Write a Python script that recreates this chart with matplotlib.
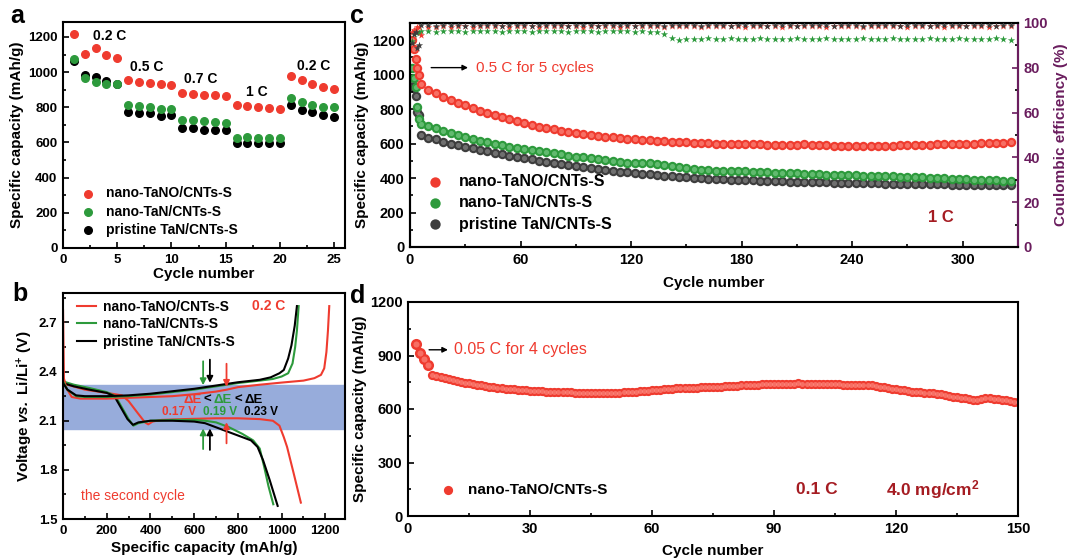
import numpy as np
import matplotlib
matplotlib.use('Agg')
import matplotlib.pyplot as plt
from matplotlib.ticker import MultipleLocator

plt.rcParams['font.family'] = ['Liberation Sans', 'DejaVu Sans']
plt.rcParams['font.weight'] = 'bold'
plt.rcParams['axes.labelweight'] = 'bold'
plt.rcParams['mathtext.fontset'] = 'custom'
plt.rcParams['mathtext.rm'] = 'Liberation Sans:bold'
plt.rcParams['mathtext.bf'] = 'Liberation Sans:bold'
plt.rcParams['mathtext.it'] = 'Liberation Sans:italic:bold'
plt.rcParams['mathtext.bfit'] = 'Liberation Sans:italic:bold'

RED = '#ef3b2f'
GREEN = '#2d9a3c'
BLACK = '#000000'
GRAY = '#3d3d3d'
PURPLE = '#6a1d5e'
DARKRED = '#a51c22'

names = ['nano-TaNO/CNTs-S', 'nano-TaN/CNTs-S', 'pristine TaN/CNTs-S']

# ---- panel a : rate performance
a_cycle = list(range(1, 26))
a_red = [1217, 1103, 1135, 1100, 1080, 958, 945, 940, 935, 925,
         882, 878, 872, 868, 862, 815, 805, 800, 795, 790,
         978, 955, 935, 918, 905]
a_green = [1075, 965, 945, 930, 930, 815, 805, 800, 790, 790,
           730, 728, 720, 715, 708, 628, 632, 628, 628, 625,
           855, 830, 815, 800, 800]
a_black = [1065, 985, 975, 950, 930, 772, 770, 768, 752, 755,
           680, 683, 670, 672, 670, 595, 598, 595, 595, 595,
           812, 785, 772, 758, 745]
a_rates = ['0.2 C', '0.5 C', '0.7 C', '1 C', '0.2 C']
a_rate_x = [2.8, 6.2, 11.2, 16.9, 21.6]
a_rate_y = [1205, 1030, 960, 886, 1035]

# ---- panel b : charge/discharge profiles (2nd cycle)
b_red_dq = [0, 20, 100, 200, 270, 300, 340, 375, 390, 410, 450, 550, 700, 800, 900, 960, 990, 1010, 1025, 1055, 1088]
b_red_dv = [2.35, 2.32, 2.29, 2.27, 2.255, 2.22, 2.15, 2.09, 2.078, 2.095, 2.105, 2.11, 2.115, 2.115, 2.11, 2.10, 2.07, 2.0, 1.94, 1.78, 1.60]
b_red_cq = [0, 0, 4, 15, 40, 80, 200, 300, 400, 500, 600, 700, 750, 800, 900, 1000, 1100, 1150, 1180, 1195, 1205, 1212, 1218]
b_red_cv = [1.56, 2.78, 2.36, 2.30, 2.245, 2.235, 2.235, 2.24, 2.245, 2.25, 2.262, 2.278, 2.29, 2.305, 2.32, 2.333, 2.345, 2.36, 2.38, 2.42, 2.52, 2.65, 2.80]
b_green_dq = [0, 50, 120, 200, 240, 270, 300, 322, 345, 400, 500, 600, 650, 700, 760, 820, 870, 900, 920, 940, 962]
b_green_dv = [2.34, 2.32, 2.30, 2.275, 2.25, 2.18, 2.11, 2.07, 2.085, 2.10, 2.105, 2.105, 2.10, 2.09, 2.06, 2.02, 1.98, 1.93, 1.82, 1.70, 1.59]
b_green_cq = [0, 20, 60, 100, 200, 300, 400, 500, 600, 700, 800, 900, 960, 1000, 1030, 1050, 1062, 1070, 1078]
b_green_cv = [2.34, 2.29, 2.25, 2.245, 2.245, 2.25, 2.26, 2.275, 2.29, 2.31, 2.33, 2.345, 2.355, 2.37, 2.39, 2.45, 2.55, 2.65, 2.80]
b_black_dq = [0, 50, 120, 200, 235, 265, 295, 320, 345, 400, 500, 600, 650, 700, 760, 820, 860, 890, 915, 945, 982]
b_black_dv = [2.33, 2.31, 2.29, 2.27, 2.25, 2.18, 2.11, 2.075, 2.09, 2.10, 2.10, 2.095, 2.085, 2.06, 2.03, 2.0, 1.98, 1.94, 1.86, 1.74, 1.58]
b_black_cq = [0, 20, 60, 100, 200, 300, 400, 500, 600, 700, 800, 900, 950, 990, 1010, 1030, 1045, 1060, 1070]
b_black_cv = [2.33, 2.29, 2.255, 2.25, 2.25, 2.255, 2.265, 2.28, 2.295, 2.315, 2.335, 2.35, 2.365, 2.39, 2.41, 2.48, 2.56, 2.68, 2.80]
b_band = (2.05, 2.32)
b_arrow_q = [641, 672, 748]
b_arrow_top = [(2.48, 2.30), (2.49, 2.315), (2.465, 2.29)]
b_arrow_bot = [(1.91, 2.07), (1.905, 2.07), (1.945, 2.108)]

# ---- panel c : long cycling at 1 C
c_cycle = list(range(1, 6)) + list(range(6, 327, 4))
c_red = [1200, 1150, 1090, 1040, 1000,
         945, 912, 893, 873, 855, 838, 822, 806, 792, 778,
         765, 752, 740, 729, 718, 708, 699, 690, 682, 675,
         668, 662, 656, 651, 646, 641, 637, 633, 629, 626,
         622, 619, 616, 613, 611, 609, 607, 605, 603, 602,
         600, 599, 598, 597, 598, 596, 595, 594, 594, 593,
         592, 594, 596, 593, 591, 590, 589, 588, 587, 586,
         585, 585, 586, 587, 589, 591, 592, 591, 593, 594,
         595, 596, 597, 598, 599, 600, 601, 603, 604, 606,
         608]
c_green = [1040, 980, 930, 815, 740,
           712, 705, 690, 675, 660, 648, 638, 628, 618, 608,
           598, 590, 582, 575, 570, 565, 558, 550, 543, 537,
           531, 525, 520, 514, 509, 503, 498, 494, 490, 488,
           490, 488, 482, 475, 470, 462, 456, 452, 448, 445,
           443, 442, 441, 440, 440, 438, 436, 434, 432, 430,
           428, 427, 425, 423, 421, 420, 418, 417, 416, 415,
           414, 413, 412, 411, 410, 409, 408, 406, 404, 402,
           400, 398, 397, 395, 393, 391, 389, 388, 386, 384,
           383]
c_black = [970, 920, 875, 785, 765,
           650, 635, 625, 612, 600, 590, 580, 572, 563, 555,
           547, 538, 530, 522, 515, 508, 500, 493, 486, 480,
           474, 468, 462, 457, 452, 447, 442, 437, 433, 429,
           425, 421, 418, 414, 411, 408, 405, 402, 399, 397,
           395, 393, 391, 389, 387, 386, 384, 383, 382, 381,
           380, 379, 378, 377, 376, 375, 374, 373, 372, 371,
           371, 370, 369, 368, 368, 367, 366, 366, 365, 364,
           364, 363, 362, 362, 361, 360, 360, 359, 358, 358,
           357]
c_ce_red = [96.0, 97.0, 97.5, 98.0, 98.2,
            94.5, 98.3, 98.4, 98.5, 98.4, 98.6, 98.5, 98.4, 98.6, 98.5,
            98.5, 98.6, 98.4, 98.5, 98.6, 98.5, 98.4, 98.6, 98.5, 98.5,
            98.6, 98.5, 98.4, 98.5, 98.6, 98.5, 98.5, 98.4, 98.6, 98.5,
            98.5, 98.6, 98.5, 98.4, 98.5, 98.6, 98.5, 98.5, 98.4, 98.6,
            98.5, 98.5, 98.6, 98.5, 98.4, 98.5, 98.6, 98.5, 98.5, 98.4,
            98.6, 98.5, 98.5, 98.6, 98.5, 98.4, 98.5, 98.6, 98.5, 98.5,
            98.4, 98.6, 98.5, 98.5, 98.6, 98.5, 98.4, 98.5, 98.6, 98.5,
            98.5, 98.4, 98.6, 98.5, 98.5, 98.6, 98.5, 98.4, 98.5, 98.6,
            98.5]
c_ce_green = [92.0, 95.0, 96.0, 96.0, 95.5,
              96.3, 96.4, 96.2, 96.3, 96.5, 96.3, 96.2, 96.4, 96.3, 96.3,
              96.4, 96.2, 96.3, 96.5, 96.3, 96.2, 96.4, 96.3, 96.3, 96.4,
              96.2, 96.3, 96.5, 96.3, 96.2, 96.4, 96.3, 96.3, 96.4, 96.2,
              96.3, 96.0, 95.8, 95.0, 93.5, 92.5, 92.8, 93.0, 92.9, 93.1,
              93.0, 92.9, 93.1, 93.0, 92.8, 93.0, 93.1, 92.9, 93.0, 93.0,
              92.9, 93.1, 93.0, 92.8, 93.0, 93.1, 92.9, 93.0, 93.0, 92.9,
              93.1, 93.0, 92.8, 93.0, 93.1, 92.9, 93.0, 93.0, 92.9, 93.1,
              93.0, 92.8, 93.0, 93.1, 92.9, 93.0, 93.0, 92.9, 93.1, 93.0,
              92.6]
c_ce_black = [91.0, 95.0, 96.0, 89.0, 90.0,
              98.9, 99.0, 98.8, 98.9, 99.0, 98.9, 98.8, 99.0, 98.9, 98.9,
              99.0, 98.8, 98.9, 99.0, 98.9, 98.8, 99.0, 98.9, 98.9, 99.0,
              98.8, 98.9, 99.0, 98.9, 98.8, 99.0, 98.9, 98.9, 99.0, 98.8,
              98.9, 99.0, 98.9, 98.8, 99.0, 98.9, 98.9, 99.0, 98.8, 98.9,
              99.0, 98.9, 98.8, 99.0, 98.9, 98.9, 99.0, 98.8, 98.9, 99.0,
              98.9, 98.8, 99.0, 98.9, 98.9, 99.0, 98.8, 98.9, 99.0, 98.9,
              98.8, 99.0, 98.9, 98.9, 99.0, 98.8, 98.9, 99.0, 98.9, 98.8,
              99.0, 98.9, 98.9, 99.0, 98.8, 98.9, 99.0, 98.9, 98.8, 99.0,
              98.9]

# ---- panel d : high loading at 0.1 C
d_cycle = list(range(2, 151))
d_red = [962, 912, 880, 845, 790, 784, 778, 772, 767, 762,
         757, 752, 748, 744, 740, 736, 732, 729, 726, 723,
         720, 717, 714, 712, 710, 708, 706, 704, 702, 701,
         700, 699, 698, 697, 696, 695, 694, 694, 693, 692,
         692, 691, 691, 690, 690, 690, 690, 690, 691, 691,
         692, 693, 694, 695, 697, 699, 701, 703, 705, 707,
         709, 711, 712, 714, 715, 716, 717, 718, 719, 720,
         721, 722, 723, 724, 725, 726, 727, 728, 730, 731,
         732, 733, 735, 736, 737, 738, 739, 740, 741, 741,
         741, 741, 740, 741, 744, 742, 740, 739, 739, 740,
         741, 741, 740, 739, 738, 737, 736, 735, 734, 733,
         732, 732, 733, 730, 726, 722, 718, 714, 710, 707,
         704, 701, 698, 696, 694, 692, 690, 688, 685, 682,
         678, 674, 670, 667, 664, 660, 655, 651, 650, 658,
         660, 659, 657, 655, 652, 648, 645, 642, 638]

W, H = 1069, 558
fig = plt.figure(figsize=(W / 100, H / 100), dpi=100)


def box(l, t, r, b):
    return [l / W, 1 - b / H, (r - l) / W, (b - t) / H]


def style(ax, size=9.5):
    ax.tick_params(which='both', direction='in', labelsize=size, width=1.2, pad=4)
    ax.tick_params(which='major', length=4)
    ax.tick_params(which='minor', length=2.5)
    for s in ax.spines.values():
        s.set_linewidth(1.5)


def balls(ax, x, y, s, col, light, **kw):
    # ball-like markers: coloured disc plus a lighter centre
    h = ax.scatter(x, y, s=s, color=col, lw=0, **kw)
    ax.scatter(x, y, s=s * 0.3, color=light, lw=0, alpha=0.55,
               zorder=kw.get('zorder', 2) + 0.1)
    return h


# a
ax = fig.add_axes(box(63, 22, 345, 248))
ax.scatter(a_cycle, a_red, s=30, color=RED, label=names[0], zorder=3)
ax.scatter(a_cycle, a_green, s=30, color=GREEN, label=names[1], zorder=2)
ax.scatter(a_cycle, a_black, s=30, color=BLACK, label=names[2], zorder=1)
for t, x, y in zip(a_rates, a_rate_x, a_rate_y):
    ax.text(x, y, t, fontsize=10, ha='left', va='center')
ax.set_xlim(0, 26)
ax.set_ylim(0, 1285)
ax.xaxis.set_major_locator(MultipleLocator(5))
ax.xaxis.set_minor_locator(MultipleLocator(2.5))
ax.yaxis.set_major_locator(MultipleLocator(200))
ax.yaxis.set_minor_locator(MultipleLocator(100))
ax.set_xlabel('Cycle number', fontsize=11, labelpad=1)
ax.set_ylabel('Specific capacity (mAh/g)', fontsize=11, labelpad=3)
style(ax)
ax.legend(loc='lower left', bbox_to_anchor=(0.02, 0.025), frameon=False, fontsize=10,
          handletextpad=0.3, labelspacing=0.3, borderaxespad=0)

# b
ax = fig.add_axes(box(63, 293, 345, 519))
ax.axhspan(b_band[0], b_band[1], color='#97acdb', zorder=0)
ax.plot(b_red_dq, b_red_dv, color=RED, lw=1.5, label=names[0])
ax.plot(b_green_dq, b_green_dv, color=GREEN, lw=1.5, label=names[1])
ax.plot(b_black_dq, b_black_dv, color=BLACK, lw=1.5, label=names[2])
ax.plot(b_red_cq, b_red_cv, color=RED, lw=1.5)
ax.plot(b_green_cq, b_green_cv, color=GREEN, lw=1.5)
ax.plot(b_black_cq, b_black_cv, color=BLACK, lw=1.5)
for q, (t0, t1), (u0, u1), col in zip(b_arrow_q, b_arrow_top, b_arrow_bot, [GREEN, BLACK, RED]):
    ax.annotate('', xy=(q, t1), xytext=(q, t0),
                arrowprops=dict(arrowstyle='-|>', color=col, lw=1.3, mutation_scale=9))
    ax.annotate('', xy=(q, u1), xytext=(q, u0),
                arrowprops=dict(arrowstyle='-|>', color=col, lw=1.3, mutation_scale=9))
ax.text(552, 2.225, 'ΔE', color=RED, fontsize=9.5, va='center')
ax.text(645, 2.225, '<', color=BLACK, fontsize=9.5, va='center')
ax.text(690, 2.225, 'ΔE', color=GREEN, fontsize=9.5, va='center')
ax.text(785, 2.225, '<', color=BLACK, fontsize=9.5, va='center')
ax.text(830, 2.225, 'ΔE', color=BLACK, fontsize=9.5, va='center')
ax.text(455, 2.155, '0.17 V', color=RED, fontsize=8.5, va='center')
ax.text(640, 2.155, '0.19 V', color=GREEN, fontsize=8.5, va='center')
ax.text(830, 2.155, '0.23 V', color=BLACK, fontsize=8.5, va='center')
ax.text(865, 2.8, '0.2 C', color=RED, fontsize=10, va='center')
ax.text(82, 1.64, 'the second cycle', color=RED, fontsize=10, fontweight='normal', va='center')
ax.set_xlim(0, 1290)
ax.set_ylim(1.5, 2.88)
ax.xaxis.set_major_locator(MultipleLocator(200))
ax.xaxis.set_minor_locator(MultipleLocator(100))
ax.yaxis.set_major_locator(MultipleLocator(0.3))
ax.yaxis.set_minor_locator(MultipleLocator(0.15))
ax.set_xlabel('Specific capacity (mAh/g)', fontsize=11, labelpad=3)
ax.set_ylabel(r'Voltage $\mathbfit{vs.}$ Li/Li$^{+}$ (V)', fontsize=11, labelpad=3)
style(ax)
ax.legend(loc='upper left', bbox_to_anchor=(0.03, 0.995), frameon=False, fontsize=10,
          handlelength=1.4, handletextpad=0.45, labelspacing=0.25, borderaxespad=0)

# c
ax = fig.add_axes(box(410, 23, 1018, 247))
ax2 = ax.twinx()
ax2.scatter(c_cycle, c_ce_green, marker='*', s=30, color=GREEN, lw=0, zorder=2)
ax2.scatter(c_cycle, c_ce_red, marker='*', s=30, color=RED, lw=0, zorder=3)
ax2.scatter(c_cycle, c_ce_black, marker='*', s=30, color=GRAY, lw=0, zorder=4)
balls(ax, c_cycle, c_red, 46, RED, '#ff9a90', label=names[0], zorder=3)
balls(ax, c_cycle, c_green, 46, GREEN, '#8fd69a', label=names[1], zorder=2)
balls(ax, c_cycle, c_black, 46, GRAY, '#9a9a9a', label=names[2], zorder=1)
ax.annotate('', xy=(33, 1041), xytext=(10, 1041),
            arrowprops=dict(arrowstyle='-|>', color='black', lw=1.0, mutation_scale=8))
ax.text(36, 1041, '0.5 C for 5 cycles', color=RED, fontsize=11, fontweight='normal', va='center')
ax.text(281, 172, '1 C', color=DARKRED, fontsize=12, va='center')
ax.set_xlim(0, 330)
ax.set_ylim(0, 1300)
ax2.set_ylim(0, 100)
ax.xaxis.set_major_locator(MultipleLocator(60))
ax.xaxis.set_minor_locator(MultipleLocator(30))
ax.yaxis.set_major_locator(MultipleLocator(200))
ax.yaxis.set_minor_locator(MultipleLocator(100))
ax2.yaxis.set_major_locator(MultipleLocator(20))
ax2.yaxis.set_minor_locator(MultipleLocator(10))
ax.set_xlabel('Cycle number', fontsize=11, labelpad=7)
ax.set_ylabel('Specific capacity (mAh/g)', fontsize=11, labelpad=2)
ax2.set_ylabel('Coulombic efficiency (%)', fontsize=11, color=PURPLE, labelpad=4)
style(ax, 10.5)
style(ax2, 10.5)
ax.tick_params(axis='y', right=False)
ax2.tick_params(axis='y', colors=PURPLE)
ax2.spines['right'].set_color(PURPLE)
ax.legend(loc='lower left', bbox_to_anchor=(0.005, 0.04), frameon=False,
          handletextpad=0.5, labelspacing=0.4, borderaxespad=0, scatterpoints=1,
          markerscale=1.1, prop={'size': 11.5, 'weight': 'bold'})

# d
ax = fig.add_axes(box(408, 302, 1018, 516))
balls(ax, d_cycle[:4], d_red[:4], 64, RED, '#ff9a90', zorder=3)
balls(ax, d_cycle[4:], d_red[4:], 44, RED, '#ff9a90', zorder=2, label=names[0])
ax.annotate('', xy=(10.5, 932), xytext=(4.5, 932),
            arrowprops=dict(arrowstyle='-|>', color='black', lw=1.0, mutation_scale=8))
ax.text(11.3, 932, '0.05 C for 4 cycles', color=RED, fontsize=11.5, fontweight='normal', va='center')
ax.text(95.5, 150, '0.1 C', color=DARKRED, fontsize=12.5, va='center')
ax.text(117.5, 150, r'4.0 mg/cm$^{2}$', color=DARKRED, fontsize=12.5, va='center')
ax.set_xlim(0, 150)
ax.set_ylim(0, 1200)
ax.xaxis.set_major_locator(MultipleLocator(30))
ax.xaxis.set_minor_locator(MultipleLocator(15))
ax.yaxis.set_major_locator(MultipleLocator(300))
ax.yaxis.set_minor_locator(MultipleLocator(150))
ax.set_xlabel('Cycle number', fontsize=11, labelpad=6)
ax.set_ylabel('Specific capacity (mAh/g)', fontsize=11, labelpad=2)
style(ax, 10.5)
ax.legend(loc='lower left', bbox_to_anchor=(0.03, 0.06), frameon=False,
          handletextpad=0.3, borderaxespad=0, scatterpoints=1,
          prop={'size': 11, 'weight': 'bold'})

# panel letters
for ch, x, y in [('a', 10, 4), ('b', 12, 282), ('c', 350, 4), ('d', 350, 284)]:
    fig.text(x / W, 1 - y / H, ch, fontsize=18, va='top', ha='left')

fig.savefig('out.png', dpi=100)
